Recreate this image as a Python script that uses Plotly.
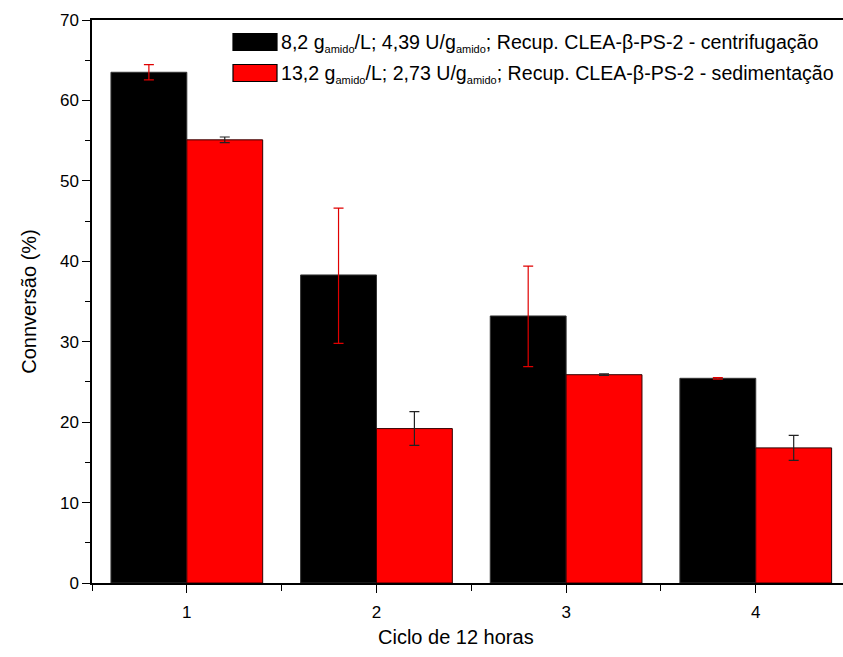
import plotly.graph_objects as go

ciclos = [1, 2, 3, 4]
centrif = [63.5, 38.3, 33.2, 25.45]
centrif_err_plus = [0.95, 8.3, 6.2, 0.1]
centrif_err_minus = [0.95, 8.5, 6.3, 0.1]
sedim = [55.1, 19.2, 25.9, 16.8]
sedim_err = [0.35, 2.1, 0.1, 1.55]

SUB = '<sub><span style="font-size:11px">amido</span></sub>'
nome_centrif = f"8,2 g{SUB}/L; 4,39 U/g{SUB}; Recup. CLEA-β-PS-2 - centrifugação"
nome_sedim = f"13,2 g{SUB}/L; 2,73 U/g{SUB}; Recup. CLEA-β-PS-2 - sedimentação"

FONT = "Liberation Sans, Arial, sans-serif"

fig = go.Figure()
fig.add_trace(go.Bar(
    x=ciclos, y=centrif, name=nome_centrif, width=0.4,
    marker=dict(color="black", line=dict(color="#333", width=1)),
    error_y=dict(type="data", array=centrif_err_plus, arrayminus=centrif_err_minus,
                 color="#e00000", thickness=1.2, width=5),
    showlegend=False,
))
fig.add_trace(go.Bar(
    x=ciclos, y=sedim, name=nome_sedim, width=0.4,
    marker=dict(color="#ff0000", line=dict(color="#300", width=1)),
    error_y=dict(type="data", array=sedim_err, color="#222", thickness=1.2, width=5),
    showlegend=False,
))

# custom legend (swatches + text) in paper coordinates
W, H, L, T = 843, 657, 92, 20
B = 74
pw, ph = W - L, H - T - B
def px(xp): return (xp - L) / pw
def py(yp): return (H - B - yp) / ph

legend_rows = [(nome_centrif, "black", 42), (nome_sedim, "#ff0000", 73)]
shapes = []
annotations = []
for text, col, yc in legend_rows:
    shapes.append(dict(type="rect", xref="paper", yref="paper",
                       x0=px(233), x1=px(277), y0=py(yc + 8.5), y1=py(yc - 8.5),
                       fillcolor=col, line=dict(color="black", width=1.2)))
    annotations.append(dict(xref="paper", yref="paper", x=px(279), y=py(yc + 1),
                            xanchor="left", yanchor="middle", text=text, showarrow=False,
                            font=dict(family=FONT, size=19.6, color="black")))

annotations.append(dict(xref="paper", yref="paper", x=px(456), y=py(637),
                        xanchor="center", yanchor="middle", text="Ciclo de 12 horas",
                        showarrow=False, font=dict(family=FONT, size=20, color="black")))

fig.update_layout(
    width=W, height=H,
    margin=dict(l=L, r=0, t=T, b=B),
    barmode="group", bargap=0.2, bargroupgap=0,
    plot_bgcolor="white", paper_bgcolor="white",
    font=dict(family=FONT, color="black"),
    shapes=shapes, annotations=annotations,
    xaxis=dict(
        range=[0.5, 4.46], tickvals=ciclos, ticktext=[str(c) for c in ciclos],
        ticks="outside", ticklen=8, tickwidth=1.2, tickcolor="black",
        minor=dict(tick0=0.5, dtick=1, ticks="outside", ticklen=6, tickwidth=1.2, tickcolor="black"),
        showline=True, linecolor="black", linewidth=1.5, mirror=True,
        showgrid=False, zeroline=False, ticklabelstandoff=5,
        tickfont=dict(family=FONT, size=17),
        automargin=False,
    ),
    yaxis=dict(
        range=[0, 70], dtick=10,
        ticks="outside", ticklen=8, tickwidth=1.2, tickcolor="black",
        minor=dict(dtick=5, ticks="outside", ticklen=5, tickwidth=1.2, tickcolor="black"),
        showline=True, linecolor="black", linewidth=1.5,
        showgrid=False, zeroline=False,
        tickfont=dict(family=FONT, size=17),
        title=dict(text="Connversão (%)", font=dict(family=FONT, size=20), standoff=18),
        automargin=False,
    ),
)

fig.write_html("out.html")
